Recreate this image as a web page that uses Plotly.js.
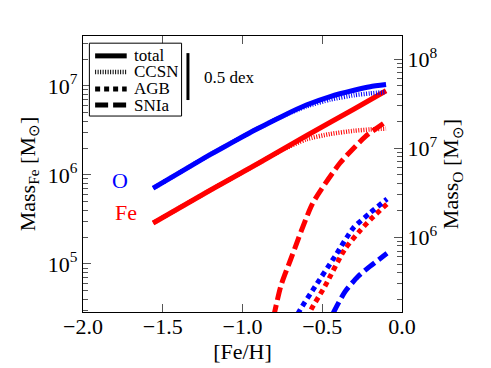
<!DOCTYPE html>
<html>
<head>
<meta charset="utf-8">
<script src="https://cdn.plot.ly/plotly-3.0.1.min.js"></script>
<style>
  html, body { margin: 0; padding: 0; background: #fff; }
  #chart { width: 491px; height: 368px; }
</style>
</head>
<body>
<div id="chart"></div>
<script>
// ─────────────────────────────
// DATOS
// ─────────────────────────────
// Oxígeno (eje derecho)
const feh_o_total   = [-1.56, -1.4, -1.22, -1.05, -0.91, -0.75, -0.6, -0.45, -0.3, -0.2, -0.1];
const o_total       = [3.55e6, 5.25e6, 8.13e6, 1.20e7, 1.64e7, 2.29e7, 3.05e7, 3.80e7, 4.47e7, 4.90e7, 5.18e7];
const feh_o_ccsn    = [-1.56, -1.4, -1.22, -1.05, -0.91, -0.75, -0.6, -0.45, -0.3, -0.2, -0.1];
const o_ccsn        = [3.55e6, 5.25e6, 8.13e6, 1.20e7, 1.64e7, 2.29e7, 2.95e7, 3.51e7, 3.94e7, 4.12e7, 4.27e7];
const feh_o_agb     = [-0.69, -0.65, -0.545, -0.42, -0.307, -0.201, -0.094];
const o_agb         = [8.9e4, 1.41e5, 2.79e5, 6.10e5, 1.26e6, 1.87e6, 2.69e6];
const feh_o_snia    = [-0.47, -0.433, -0.357, -0.276, -0.201, -0.094];
const o_snia        = [8.9e4, 1.38e5, 2.45e5, 3.62e5, 4.70e5, 6.59e5];

// Hierro (eje izquierdo)
const feh_fe_total  = [-1.56, -1.2, -0.9, -0.6, -0.3, -0.1];
const fe_total      = [2.88e5, 6.76e5, 1.35e6, 2.75e6, 5.50e6, 8.81e6];
const feh_fe_ccsn   = [-1.56, -1.2, -0.9, -0.75, -0.6, -0.45, -0.3, -0.2, -0.1];
const fe_ccsn       = [2.88e5, 6.76e5, 1.35e6, 1.91e6, 2.51e6, 2.88e6, 3.13e6, 3.24e6, 3.31e6];
const feh_fe_agb    = [-0.62, -0.58, -0.48, -0.36, -0.26, -0.18, -0.09];
const fe_agb        = [1.58e4, 2.82e4, 5.75e4, 1.45e5, 2.40e5, 3.39e5, 4.79e5];
const feh_fe_snia   = [-0.83, -0.76, -0.70, -0.56, -0.39, -0.23, -0.09];
const fe_snia       = [1.58e4, 5.62e4, 1.10e5, 4.79e5, 1.35e6, 2.69e6, 4.07e6];

// Ejes y leyenda
const xTicks        = [-2.0, -1.5, -1.0, -0.5, 0.0];
const xTickText     = ['−2.0', '−1.5', '−1.0', '−0.5', '0.0'];
const feTicks       = [1e5, 1e6, 1e7];
const feTickText    = ['10<sup>5</sup>', '10<sup>6</sup>', '10<sup>7</sup>'];
const oTicks        = [1e6, 1e7, 1e8];
const oTickText     = ['10<sup>6</sup>', '10<sup>7</sup>', '10<sup>8</sup>'];
const legendLabels  = ['total', 'CCSN', 'AGB', 'SNIa'];

// ─────────────────────────────
// ESTILOS
// ─────────────────────────────
const FONT = 'Liberation Serif, Times New Roman, serif';
const BLUE = '#0000ff';
const RED = '#ff0000';
const DASH = {
  total: 'solid',
  CCSN: '1px,1.5px',
  AGB: '5px,4px',
  SNIa: '13px,5px'
};
const W = 5;

function minorVals(lo, hi) {
  const out = [];
  for (let e = lo; e <= hi; e++) {
    for (let m = 2; m <= 9; m++) out.push(m * Math.pow(10, e));
  }
  return out;
}

function curve(x, y, color, kind, yaxis) {
  return {
    x, y,
    type: 'scatter',
    mode: 'lines',
    yaxis,
    showlegend: false,
    hoverinfo: 'skip',
    line: { color, width: kind === 'CCSN' ? 4.5 : W, dash: DASH[kind], shape: 'spline', smoothing: 0.6 }
  };
}

const traces = [
  curve(feh_fe_ccsn, fe_ccsn, RED, 'CCSN', 'y'),
  curve(feh_fe_total, fe_total, RED, 'total', 'y'),
  curve(feh_fe_agb, fe_agb, RED, 'AGB', 'y'),
  curve(feh_fe_snia, fe_snia, RED, 'SNIa', 'y'),
  curve(feh_o_ccsn, o_ccsn, BLUE, 'CCSN', 'y2'),
  curve(feh_o_total, o_total, BLUE, 'total', 'y2'),
  curve(feh_o_agb, o_agb, BLUE, 'AGB', 'y2'),
  curve(feh_o_snia, o_snia, BLUE, 'SNIa', 'y2')
];

// ─────────────────────────────
// LEYENDA MANUAL + BARRA 0.5 dex
// ─────────────────────────────
const shapes = [
  { type: 'rect', xref: 'paper', yref: 'paper', x0: 0.020, x1: 0.309, y0: 0.710, y1: 0.974,
    line: { color: '#000', width: 1 }, fillcolor: '#fff' },
  { type: 'line', xref: 'paper', yref: 'paper', x0: 0.329, x1: 0.329, y0: 0.768, y1: 0.938,
    line: { color: '#000', width: 3 } }
];
const annotations = [
  { xref: 'paper', yref: 'paper', x: 0.372, y: 0.848, xanchor: 'left', yanchor: 'middle',
    text: '0.5 dex', showarrow: false, font: { family: FONT, size: 17, color: '#000' } },
  { xref: 'paper', yref: 'paper', x: 0.116, y: 0.478, xanchor: 'center', yanchor: 'middle',
    text: 'O', showarrow: false, font: { family: FONT, size: 22, color: BLUE } },
  { xref: 'paper', yref: 'paper', x: 0.135, y: 0.359, xanchor: 'center', yanchor: 'middle',
    text: 'Fe', showarrow: false, font: { family: FONT, size: 22, color: RED } }
];
const rowsY = [0.928, 0.870, 0.808, 0.750];
legendLabels.forEach((lab, i) => {
  shapes.push({
    type: 'line', xref: 'paper', yref: 'paper', x0: 0.038, x1: 0.137, y0: rowsY[i], y1: rowsY[i],
    line: { color: '#000', width: lab === 'CCSN' ? 4.5 : W, dash: DASH[lab] }
  });
  annotations.push({
    xref: 'paper', yref: 'paper', x: 0.153, y: rowsY[i], xanchor: 'left', yanchor: 'middle',
    height: 15, text: lab, showarrow: false, font: { family: FONT, size: 17, color: '#000' }
  });
});

// ─────────────────────────────
// LAYOUT
// ─────────────────────────────
const axisCommon = {
  showgrid: false,
  zeroline: false,
  showline: true,
  linecolor: '#000',
  linewidth: 1.2,
  ticks: 'inside',
  ticklen: 8,
  tickwidth: 1,
  tickcolor: '#555',
  tickfont: { family: FONT, size: 22, color: '#000' }
};

const layout = {
  width: 491,
  height: 368,
  margin: { l: 83, r: 89, t: 36, b: 56 },
  paper_bgcolor: '#fff',
  plot_bgcolor: '#fff',
  showlegend: false,
  font: { family: FONT, color: '#000' },
  xaxis: {
    ...axisCommon,
    range: [-2.0, 0.0],
    tickmode: 'array',
    tickvals: xTicks,
    ticktext: xTickText,
    mirror: 'ticks',
    ticklabelstandoff: -6,
    title: { text: '[Fe/H]', font: { family: FONT, size: 22 }, standoff: 0 }
  },
  yaxis: {
    ...axisCommon,
    type: 'log',
    range: [4.46, 7.56],
    tickmode: 'array',
    tickvals: feTicks,
    ticktext: feTickText,
    minor: { ticks: 'inside', ticklen: 5, tickcolor: '#555', tickmode: 'array', tickvals: minorVals(4, 7) },
    title: { text: 'Mass<sub>Fe</sub> [M<sub>⊙</sub>]', font: { family: FONT, size: 22 }, standoff: 6 }
  },
  yaxis2: {
    ...axisCommon,
    type: 'log',
    overlaying: 'y',
    side: 'right',
    range: [5.16, 8.26],
    tickmode: 'array',
    tickvals: oTicks,
    ticktext: oTickText,
    minor: { ticks: 'inside', ticklen: 5, tickcolor: '#555', tickmode: 'array', tickvals: minorVals(5, 8) },
    title: { text: 'Mass<sub>O</sub> [M<sub>⊙</sub>]', font: { family: FONT, size: 22 }, standoff: 6 }
  },
  shapes,
  annotations
};

Plotly.newPlot('chart', traces, layout, { displayModeBar: false, staticPlot: true });
</script>
</body>
</html>
